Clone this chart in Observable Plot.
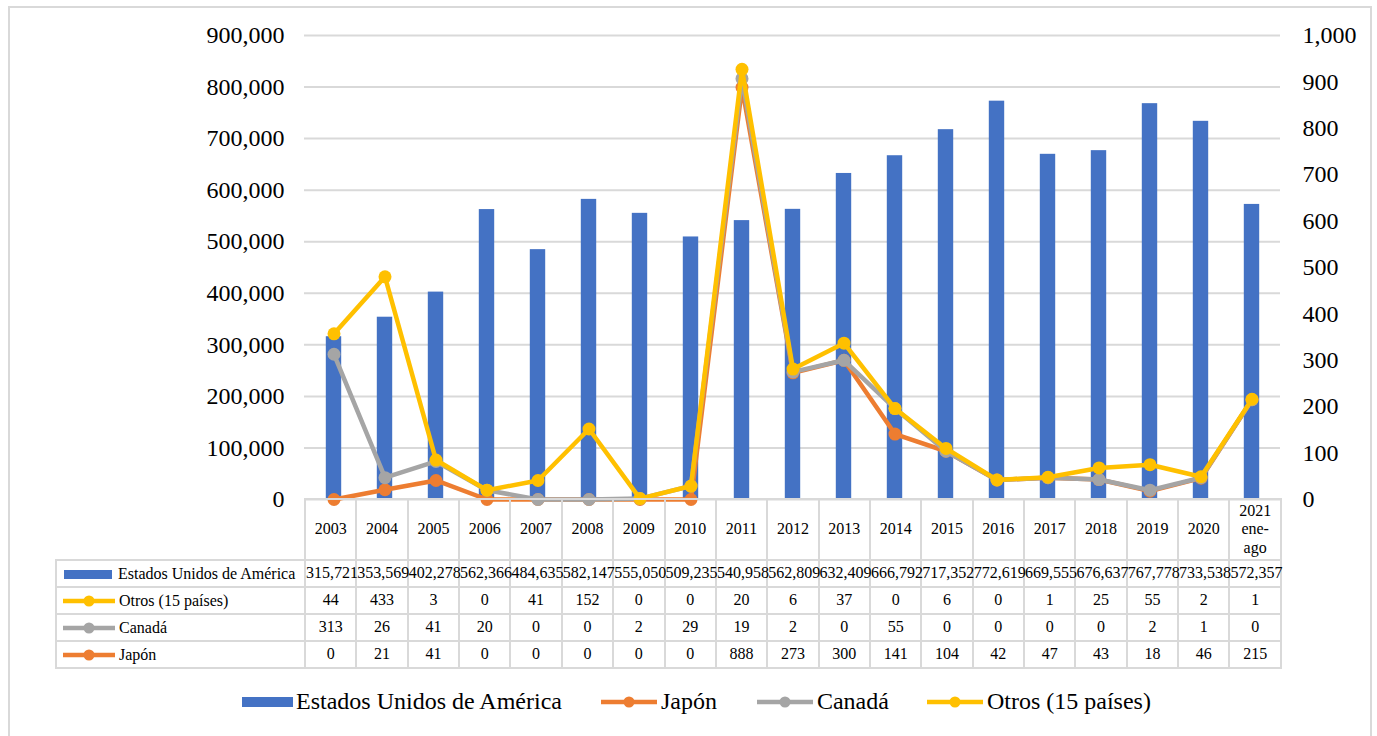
<!DOCTYPE html>
<html>
<head>
<meta charset="utf-8">
<script src="https://cdn.jsdelivr.net/npm/d3@7"></script>
<script src="https://cdn.jsdelivr.net/npm/@observablehq/plot@0.6"></script>
<style>
  body { margin: 0; background: #fff; font-family: "Liberation Serif", "Times New Roman", serif; color: #000; }
  #wrap { position: relative; width: 1377px; height: 736px; overflow: hidden; }
  #frame { position: absolute; left: 8px; top: 6px; width: 1364px; height: 740px; border: 2px solid #d9d9d9; box-sizing: border-box; }
  #chart { position: absolute; left: 0; top: 0; }
  #tbl { position: absolute; left: 55px; top: 498px; width: 1226px; border-collapse: collapse; table-layout: fixed; font-size: 16px; }
  #tbl td { border: 2px solid #d9d9d9; padding: 0; text-align: center; vertical-align: middle; white-space: nowrap; overflow: visible; height: 25px; line-height: 1.15; }
  #tbl tr.head td { height: 59px; }
  #tbl td.blank { border-top: none; border-left: none; }
  #tbl td.lab { text-align: left; }
  .sw { display: inline-block; vertical-align: middle; }
  #legend { position: absolute; left: 242px; top: 688px; display: flex; align-items: center; font-size: 24px; white-space: nowrap; }
  #legend .item { display: flex; align-items: center; }
</style>
</head>
<body>
<div id="wrap">
  <div id="frame"></div>
  <div id="chart"></div>
  <table id="tbl"></table>
  <div id="legend"></div>
</div>
<script>
const years = ["2003","2004","2005","2006","2007","2008","2009","2010","2011","2012","2013","2014","2015","2016","2017","2018","2019","2020","2021\nene-\nago"];
const usa = [315721,353569,402278,562366,484635,582147,555050,509235,540958,562809,632409,666792,717352,772619,669555,676637,767778,733538,572357];
const otros = [44,433,3,0,41,152,0,0,20,6,37,0,6,0,1,25,55,2,1];
const canada = [313,26,41,20,0,0,2,29,19,2,0,55,0,0,0,0,2,1,0];
const japon = [0,21,41,0,0,0,0,0,888,273,300,141,104,42,47,43,18,46,215];

const leftTicks = [0,100000,200000,300000,400000,500000,600000,700000,800000,900000];
const rightTicks = [0,100,200,300,400,500,600,700,800,900,1000];

const colors = { usa: "#4472C4", japon: "#ED7D31", canada: "#A5A5A5", otros: "#FFC000" };
const names = { usa: "Estados Unidos de América", japon: "Japón", canada: "Canadá", otros: "Otros (15 países)" };

// Right axis (0–1,000) mapped onto the left scale (0–900,000)
const R = 900;
// The line series are drawn stacked: Japón, then Canadá on top of it, then Otros
const rows = years.map((year, i) => ({
  year,
  usa: usa[i],
  jap: japon[i],
  can: japon[i] + canada[i],
  otr: japon[i] + canada[i] + otros[i]
}));

const fmt = d3.format(",");
const plotLeft = 304, plotRight = 1280;

const chart = Plot.plot({
  width: 1377,
  height: 500,
  marginTop: 35,
  marginBottom: 1,
  marginLeft: plotLeft,
  marginRight: 1377 - plotRight,
  x: { domain: years, padding: 0, axis: null },
  y: { domain: [0, 900000], axis: null, label: null },
  style: { fontFamily: "Liberation Serif, Times New Roman, serif", fontSize: "24px", color: "#000", background: "transparent", overflow: "visible" },
  marks: [
    Plot.gridY({ ticks: leftTicks, stroke: "#d9d9d9", strokeOpacity: 1, strokeWidth: 2 }),
    Plot.axisY({ anchor: "left", ticks: leftTicks, tickSize: 0, tickPadding: 20, tickFormat: fmt, label: null, fontSize: 24 }),
    Plot.axisY({ anchor: "right", ticks: rightTicks.map(v => v * R), tickSize: 0, tickPadding: 22, tickFormat: d => fmt(Math.round(d / R)), label: null, fontSize: 24 }),
    Plot.barY(rows, { x: "year", y: "usa", fill: colors.usa, insetLeft: 17.8, insetRight: 17.8 }),
    Plot.lineY(rows, { x: "year", y: d => d.jap * R, stroke: colors.japon, strokeWidth: 4.5 }),
    Plot.dot(rows, { x: "year", y: d => d.jap * R, r: 6.5, fill: colors.japon }),
    Plot.lineY(rows, { x: "year", y: d => d.can * R, stroke: colors.canada, strokeWidth: 4.5 }),
    Plot.dot(rows, { x: "year", y: d => d.can * R, r: 6.5, fill: colors.canada }),
    Plot.lineY(rows, { x: "year", y: d => d.otr * R, stroke: colors.otros, strokeWidth: 4.5 }),
    Plot.dot(rows, { x: "year", y: d => d.otr * R, r: 6.5, fill: colors.otros })
  ]
});
document.getElementById("chart").appendChild(chart);

// Data table
function lineSwatch(color, w) {
  return `<svg class="sw" width="${w}" height="14"><line x1="1" x2="${w-1}" y1="7" y2="7" stroke="${color}" stroke-width="4.5"/><circle cx="${w/2}" cy="7" r="5.5" fill="${color}"/></svg>`;
}
function barSwatch(color, w, h) {
  return `<span class="sw" style="width:${w}px;height:${h}px;background:${color}"></span>`;
}
const firstCol = plotLeft - 55;
const colW = (plotRight - plotLeft) / years.length;
let html = `<colgroup><col style="width:${firstCol}px">` + years.map(() => `<col style="width:${colW}px">`).join("") + `</colgroup>`;
html += `<tr class="head"><td class="blank"></td>` + years.map(y => `<td>${y.replace(/\n/g, "<br>")}</td>`).join("") + `</tr>`;
const tableRows = [
  ["usa", usa, barSwatch(colors.usa, 48, 9)],
  ["otros", otros, lineSwatch(colors.otros, 54)],
  ["canada", canada, lineSwatch(colors.canada, 54)],
  ["japon", japon, lineSwatch(colors.japon, 54)]
];
for (const [key, vals, sw] of tableRows) {
  html += `<tr><td class="lab"><span style="display:inline-block;width:${key === "usa" ? 7 : 5}px"></span>${sw}<span style="margin-left:${key === "usa" ? 6 : 3}px;vertical-align:middle">${names[key]}</span></td>` +
    vals.map(v => `<td>${fmt(v)}</td>`).join("") + `</tr>`;
}
document.getElementById("tbl").innerHTML = html;

// Legend
const legendItems = [
  ["usa", barSwatch(colors.usa, 51, 10), 38],
  ["japon", lineSwatch(colors.japon, 58), 39],
  ["canada", lineSwatch(colors.canada, 58), 37],
  ["otros", lineSwatch(colors.otros, 58), 0]
];
document.getElementById("legend").innerHTML = legendItems.map(([k, sw, gap]) =>
  `<div class="item" style="margin-right:${gap}px">${sw}<span style="margin-left:3px">${names[k]}</span></div>`).join("");
</script>
</body>
</html>
